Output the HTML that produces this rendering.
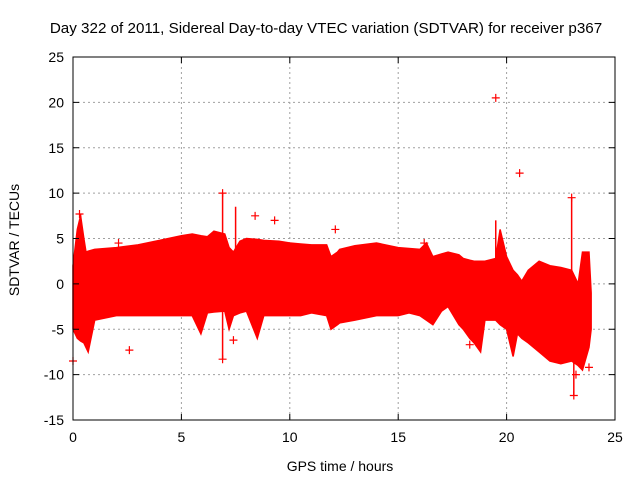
<!DOCTYPE html>
<html><head><meta charset="utf-8"><style>
body{margin:0;background:#fff}
svg text{font-family:"Liberation Sans",sans-serif;font-size:14px;fill:#000}
</style></head><body>
<svg id="c" width="640" height="480">
<text x="326" y="33" text-anchor="middle" style="font-size:15.2px">Day 322 of 2011, Sidereal Day-to-day VTEC variation (SDTVAR) for receiver p367</text>
<text x="340" y="471" text-anchor="middle">GPS time / hours</text>
<text transform="translate(19,240) rotate(-90)" text-anchor="middle">SDTVAR / TECUs</text>
<g id="grid"></g><g id="data"></g><g id="axes"></g>
</svg>
<script>
const xTicks=[0,5,10,15,20,25];
const yTicks=[-15,-10,-5,0,5,10,15,20,25];
const hours=[0,0.2,0.35,0.5,0.6,0.7,1,2,3,4,5,5.5,5.9,6.2,6.5,7,7.2,7.4,7.7,8,8.5,8.8,9.5,10,10.5,11,11.7,11.9,12.2,12.3,13,14,15,15.5,16,16.3,16.6,17,17.3,17.8,18,18.3,18.5,18.8,19,19.5,19.7,20,20.3,20.5,20.7,21,21.5,22,22.5,23,23.3,23.5,23.8,23.9];
const upper=[2,6,7.5,5,3.5,3.6,3.8,4,4.3,4.8,5.3,5.5,5.3,5.2,5.8,5.5,4,3.5,4.7,5,4.9,4.8,4.7,4.5,4.4,4.3,4.3,3,3.5,3.8,4.2,4.5,4,3.9,3.8,4.5,3,3.3,3.5,3.2,2.8,2.6,2.5,2.5,2.5,2.8,6,3,1.5,1,0.3,1.5,2.5,2,1.8,1.5,0,3.5,3.5,-1];
const lower=[-5,-6,-6.3,-6.5,-7,-7.5,-4,-3.5,-3.5,-3.5,-3.5,-3.5,-5.5,-3.2,-3.1,-3,-5,-3.5,-3.2,-3,-6,-3.5,-3.5,-3.5,-3.5,-3.2,-3.5,-5,-4.5,-4.3,-4,-3.5,-3.5,-3.2,-3.5,-4,-4.5,-3,-2.5,-4.5,-5,-6,-6.5,-7.5,-4,-4,-4.5,-5,-8,-5.5,-6,-6.5,-7.5,-8.5,-8.8,-8.5,-9,-9.5,-7,-5];
const outX=[19.5,20.6,23,23.1,6.9,8.4,9.3,12.1,2.1,2.6,7.4,18.3,23.8,0,6.9,16.2,0.3,23.2];
const outY=[20.5,12.2,9.5,-12.3,10,7.5,7,6,4.5,-7.3,-6.2,-6.7,-9.2,-8.5,-8.3,4.5,7.7,-10];
const spikeX=[6.9,6.9,23,23.1,19.5,0.35,7.5];
const spikeTop=[10,0,9.5,0,7,7.7,8.5];
const spikeBot=[0,-8.3,0,-12.3,0,0,0];
const X0=73,X1=615,Y0=420,Y1=57;
const sx=v=>X0+(v-0)/25*(X1-X0);
const sy=v=>Y0-(v+15)/40*(Y0-Y1);
const NS='http://www.w3.org/2000/svg';
function mk(t,a,p){const e=document.createElementNS(NS,t);for(const k in a)e.setAttribute(k,a[k]);p.appendChild(e);return e;}
const grid=document.getElementById('grid'),axes=document.getElementById('axes'),dg=document.getElementById('data');
xTicks.forEach(t=>{
 if(t>0&&t<25){const l=mk('line',{x1:sx(t),x2:sx(t),y1:Y1,y2:Y0,stroke:'#a0a0a0','stroke-dasharray':'2,3'},grid);
 
 }
 const tx=mk('text',{x:sx(t),y:Y0+22,'text-anchor':'middle'},axes);tx.textContent=t;
 
 
 mk('line',{x1:sx(t),x2:sx(t),y1:Y0,y2:Y0-6,stroke:'#000'},axes);
 mk('line',{x1:sx(t),x2:sx(t),y1:Y1,y2:Y1+6,stroke:'#000'},axes);
});
yTicks.forEach(t=>{
 if(t>-15&&t<25){const l=mk('line',{x1:X0,x2:X1,y1:sy(t),y2:sy(t),stroke:'#a0a0a0','stroke-dasharray':'2,3'},grid);
 
 }
 const tx=mk('text',{x:X0-9,y:sy(t)+5,'text-anchor':'end'},axes);tx.textContent=t;
 
 
 mk('line',{x1:X0,x2:X0+6,y1:sy(t),y2:sy(t),stroke:'#000'},axes);
 mk('line',{x1:X1,x2:X1-6,y1:sy(t),y2:sy(t),stroke:'#000'},axes);
});
const fr=mk('rect',{x:X0,y:Y1,width:X1-X0,height:Y0-Y1,fill:'none',stroke:'#000'},axes);


let pts=hours.map((h,i)=>sx(h)+','+sy(upper[i]));
for(let i=hours.length-1;i>=0;i--)pts.push(sx(hours[i])+','+sy(lower[i]));
const band=mk('polygon',{points:pts.join(' '),fill:'#ff0000',stroke:'#ff0000','stroke-width':1.5},dg);


spikeX.forEach((h,i)=>{
 const s=mk('line',{x1:sx(h),x2:sx(h),y1:sy(spikeTop[i]),y2:sy(spikeBot[i]),stroke:'#ff0000','stroke-width':1.5},dg);
 
 
});
outX.forEach((h,i)=>{
 const g=mk('path',{d:`M${sx(h)-4},${sy(outY[i])}h8M${sx(h)},${sy(outY[i])-4}v8`,stroke:'#ff0000','stroke-width':1.2},dg);
 
 
});
</script>
</body></html>
